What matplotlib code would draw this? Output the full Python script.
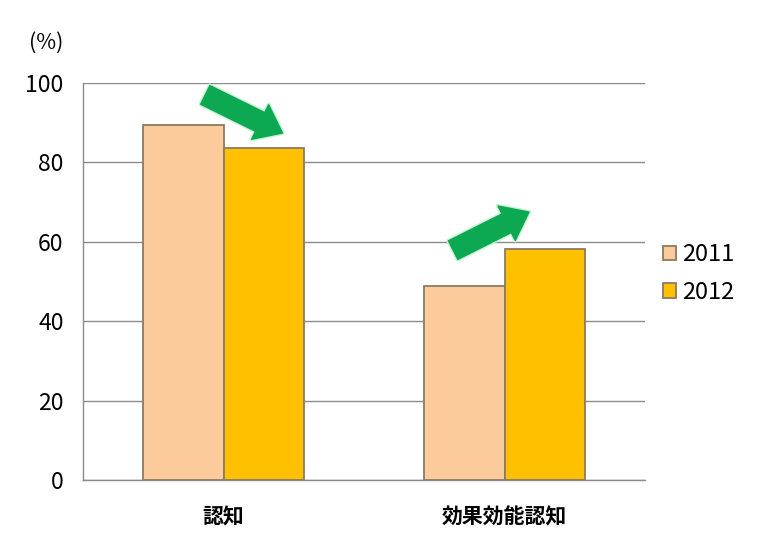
import matplotlib
matplotlib.use("Agg")
import matplotlib.pyplot as plt
import matplotlib.patheffects as pe
import numpy as np

plt.rcParams['font.family'] = ['Noto Sans CJK JP', 'DejaVu Sans']

categories = ["認知", "効果効能認知"]
years = ["2011", "2012"]
values_2011 = [89.4, 48.9]
values_2012 = [83.6, 58.2]
yticks = [0, 20, 40, 60, 80, 100]

col_2011 = "#FBCB9C"
col_2012 = "#FFC000"
edge = "#8C7B62"
green = "#0DA852"

fig = plt.figure(figsize=(7.58, 5.45), dpi=100)
ax = fig.add_axes([0.1095, 0.1193, 0.7415, 0.7284])

x = np.arange(len(categories))
w = 0.285
ax.bar(x - w / 2, values_2011, w, color=col_2011, edgecolor=edge, linewidth=1.3, label=years[0], zorder=3)
ax.bar(x + w / 2, values_2012, w, color=col_2012, edgecolor=edge, linewidth=1.3, label=years[1], zorder=3)

ax.set_xlim(-0.5, 1.5)
ax.set_ylim(0, 100)
ax.set_yticks(yticks)
ax.set_yticklabels([str(t) for t in yticks], fontsize=16.5)
ax.set_xticks(x)
ax.set_xticklabels(categories, fontsize=15, fontweight='bold')
ax.tick_params(axis='y', length=0, pad=14)
ax.tick_params(axis='x', length=0, pad=19)
ax.yaxis.grid(True, color="#8a8a8a", linewidth=1.0, zorder=0)
for s in ["top", "right"]:
    ax.spines[s].set_visible(False)
for s in ["left", "bottom"]:
    ax.spines[s].set_color("#8a8a8a")
    ax.spines[s].set_linewidth(1.0)

# trend arrows above each pair of bars
glow = [pe.withStroke(linewidth=3, foreground="#c4f2d2")]
for i in range(len(categories)):
    y0 = values_2011[i]
    y1 = values_2012[i]
    if y1 < y0:
        start, end = (x[i] - 0.065, 97.0), (x[i] + 0.21, 87.4)
    else:
        start, end = (x[i] - 0.183, 57.9), (x[i] + 0.087, 67.5)
    a = ax.annotate("", xy=end, xytext=start,
                    arrowprops=dict(arrowstyle="simple,head_width=1.85,head_length=1.2,tail_width=1.0",
                                    mutation_scale=15, color=green, shrinkA=0, shrinkB=0),
                    zorder=5)
    a.arrow_patch.set_path_effects(glow)

ax.legend(loc="center left", bbox_to_anchor=(1.0, 0.52), frameon=False, fontsize=17,
          handlelength=0.55, handleheight=0.55, handletextpad=0.28, labelspacing=0.62,
          borderpad=0.2, borderaxespad=0.55)

fig.text(0.038, 0.922, "(%)", fontsize=15.5, ha="left", va="center")

fig.savefig("out.png", dpi=100)
